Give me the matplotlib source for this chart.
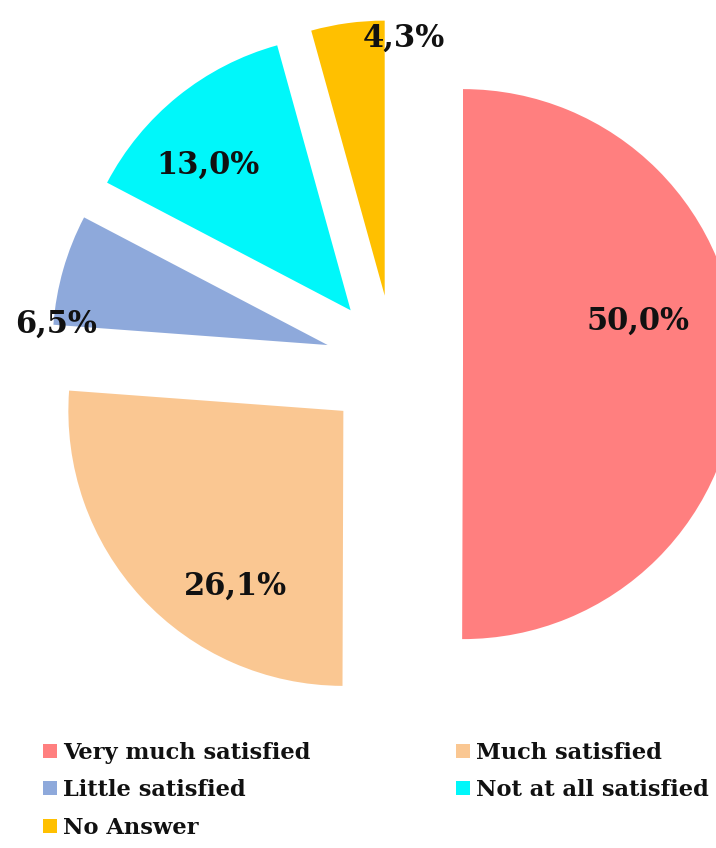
import matplotlib
matplotlib.use("Agg")
import matplotlib.pyplot as plt
from matplotlib.lines import Line2D
import numpy as np

# Survey answers and their shares (%)
categories = ["Very much satisfied", "Much satisfied", "Little satisfied",
              "Not at all satisfied", "No Answer"]
shares = [50.0, 26.1, 6.5, 13.0, 4.3]
share_labels = ["50,0%", "26,1%", "6,5%", "13,0%", "4,3%"]
colors = ["#FF7F7F", "#FAC792", "#8EA9DB", "#00F7FA", "#FFC000"]

W, H = 716, 848
fig = plt.figure(figsize=(W / 100, H / 100), dpi=100)
ax = fig.add_axes([0, 0, 1, 1])

R = 275
center = (394, H - 364)
# explode offsets are in data units (pixels here)
wedges, _ = ax.pie(shares, explode=[69] * len(shares), colors=colors,
                   startangle=90, counterclock=False, radius=R, center=center,
                   wedgeprops=dict(linewidth=0))

ax.set_xlim(0, W)
ax.set_ylim(0, H)
ax.set_aspect("equal", adjustable="box")
ax.axis("off")

# label placement: (fraction of radius, angular shift in degrees) from each wedge apex
label_pos = [(0.655, 14), (0.75, 15.7), (0.99, 11.5), (0.74, 5.7), (0.94, -12)]
font = "DejaVu Serif"
for w, lab, (f, shift) in zip(wedges, share_labels, label_pos):
    mid = np.deg2rad((w.theta1 + w.theta2) / 2 + shift)
    cx, cy = w.center
    ax.text(cx + f * R * np.cos(mid), cy + f * R * np.sin(mid), lab,
            ha="center", va="center", fontsize=22, fontweight="bold",
            family=font, color="#111111")

# legend laid out row by row in two columns
handles = [Line2D([], [], marker="s", linestyle="none", markersize=10,
                  markerfacecolor=c, markeredgewidth=0) for c in colors]
order = [0, 2, 4, 1, 3]
leg = ax.legend([handles[i] for i in order], [categories[i] for i in order],
                ncol=2, loc="upper left", bbox_to_anchor=(42 / W, 1 - 742 / H),
                frameon=False, borderpad=0, borderaxespad=0,
                handlelength=0.7, handletextpad=0.25, columnspacing=6.4,
                labelspacing=0.68,
                prop=dict(family=font, weight="bold", size=16.2))
for t in leg.get_texts():
    t.set_color("#111111")

fig.savefig("out.png", dpi=100)
